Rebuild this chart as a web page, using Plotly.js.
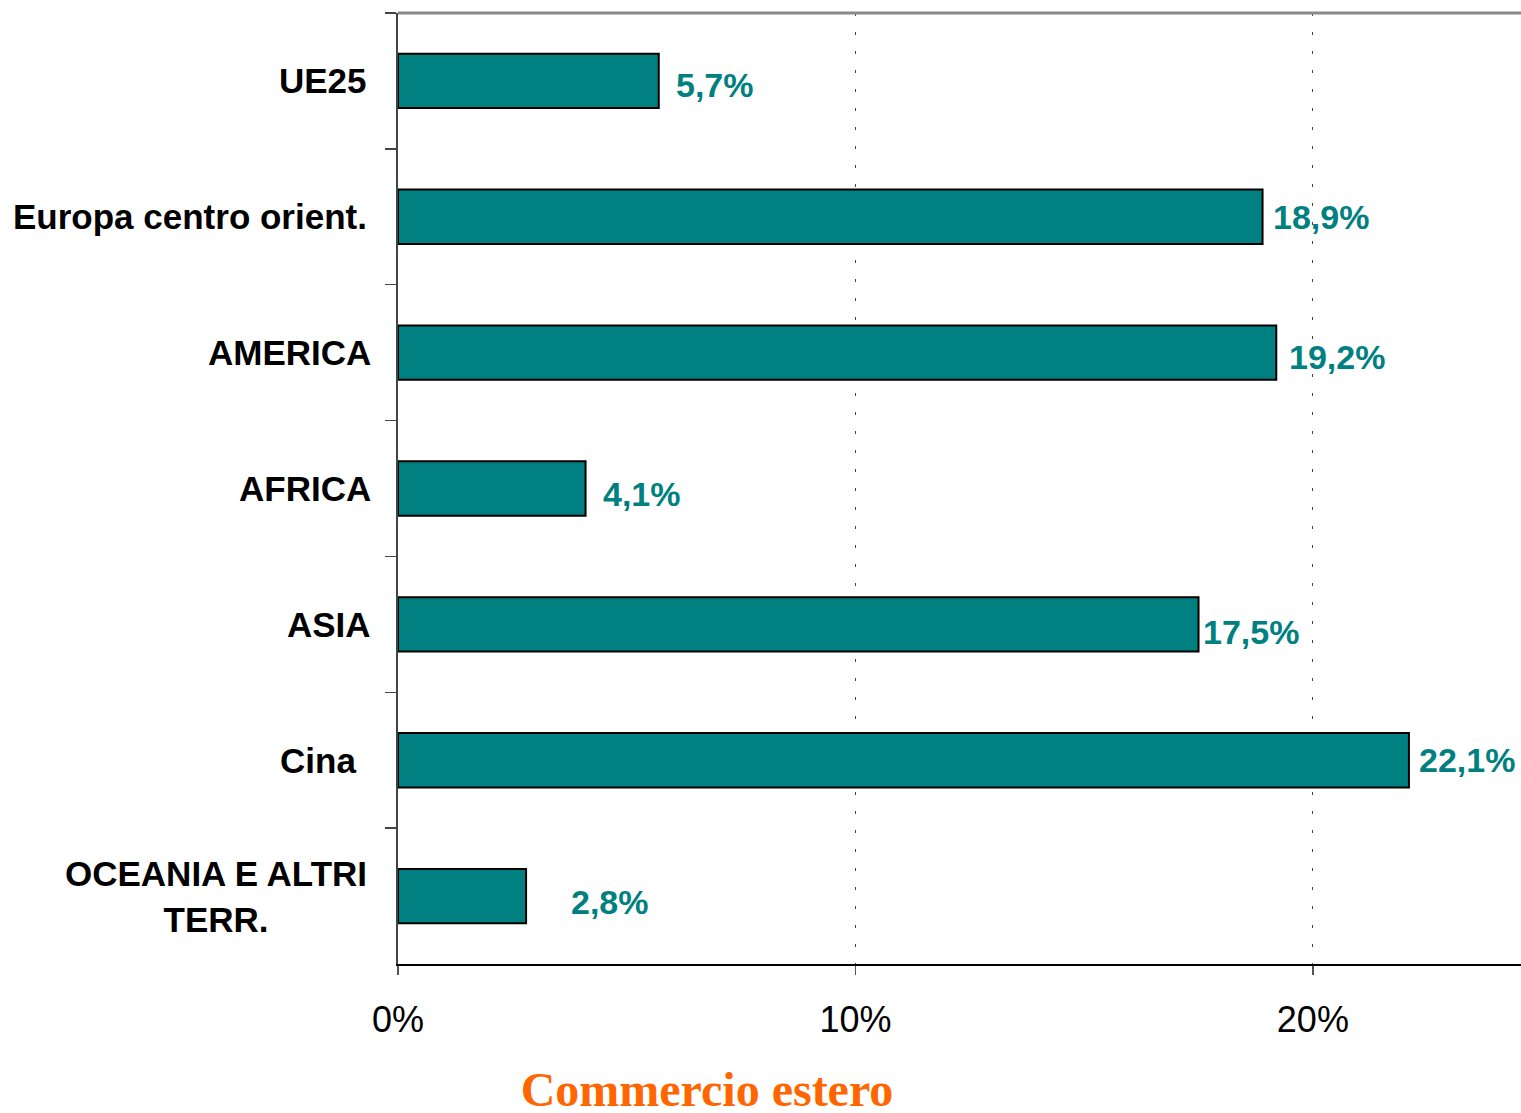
<!DOCTYPE html>
<html>
<head>
<meta charset="utf-8">
<script src="https://cdn.plot.ly/plotly-3.0.1.min.js"></script>
<style>html,body{margin:0;padding:0;background:#fff;}#chart{width:1521px;height:1113px;}</style>
</head>
<body>
<div id="chart"></div>
<script>
// ---- data ----
const categories = ["UE25", "Europa centro orient.", "AMERICA", "AFRICA", "ASIA", "Cina ", "OCEANIA E ALTRI<br>TERR."];
const values = [5.7, 18.9, 19.2, 4.1, 17.5, 22.1, 2.8];
const valueLabels = ["5,7%", "18,9%", "19,2%", "4,1%", "17,5%", "22,1%", "2,8%"];
const xTickVals = [0, 10, 20];
const xTickText = ["0%", "10%", "20%"];
const chartTitle = "Commercio estero";

// ---- style (label placement offsets in px) ----
const labelStyle = {
  xshift: [15, 8, 11, 15, 2, 8, 43],
  yshift: [-4, 0, -4, -5, -8, 0, -6],
  catShift: [-29, -29, -25, -25, -25, -30, -29]
};
const teal = "#008080";

const trace = {
  type: "bar",
  orientation: "h",
  y: categories,
  x: values,
  width: 0.4,
  marker: {color: teal, line: {color: "#000", width: 2}},
  hoverinfo: "skip"
};

const annotations = [];
values.forEach((v, i) => {
  annotations.push({
    x: v, y: categories[i], xref: "x", yref: "y",
    text: valueLabels[i], showarrow: false,
    xanchor: "left", yanchor: "middle",
    xshift: labelStyle.xshift[i], yshift: labelStyle.yshift[i],
    font: {family: "Liberation Sans, Arial, sans-serif", size: 34, color: teal, weight: "bold"}
  });
});
categories.forEach((c, i) => {
  annotations.push({
    x: 0, y: c, xref: "paper", yref: "y",
    text: "<b>" + c + "</b>", showarrow: false,
    xanchor: "right", yanchor: "middle", align: "center",
    xshift: labelStyle.catShift[i], yshift: 0,
    font: {family: "Liberation Sans, Arial, sans-serif", size: 35, color: "#000"}
  });
});

const layout = {
  width: 1521, height: 1113,
  margin: {l: 398, r: 0, t: 13, b: 149},
  paper_bgcolor: "#fff", plot_bgcolor: "#fff",
  showlegend: false,
  title: {
    text: "<b>" + chartTitle + "</b>",
    font: {family: "Liberation Serif, Times New Roman, serif", size: 48, color: "#FF6600"},
    xref: "container", yref: "container",
    x: 707 / 1521, xanchor: "center",
    y: 1 - 1089 / 1113, yanchor: "middle"
  },
  xaxis: {
    range: [0, 24.55],
    tickvals: xTickVals, ticktext: xTickText,
    ticks: "outside", ticklen: 9, tickwidth: 1.5, tickcolor: "#555",
    tickfont: {family: "Liberation Sans, Arial, sans-serif", size: 36, color: "#000"},
    ticklabelstandoff: 14,
    showline: true, linecolor: "#000", linewidth: 1.5,
    showgrid: true, gridcolor: "#444", gridwidth: 1, griddash: "3px,16px",
    zeroline: false, fixedrange: true
  },
  yaxis: {
    type: "category",
    autorange: "reversed",
    showticklabels: false,
    ticks: "outside", ticklen: 11, tickwidth: 1.5, tickcolor: "#444",
    tickson: "boundaries",
    showline: true, linecolor: "#444", linewidth: 2,
    showgrid: false, zeroline: false, fixedrange: true
  },
  shapes: [{
    type: "line", xref: "paper", yref: "paper",
    x0: 0, x1: 1, y0: 1, y1: 1,
    line: {color: "#888", width: 3}
  }],
  annotations: annotations
};

Plotly.newPlot("chart", [trace], layout, {displayModeBar: false, staticPlot: true});
</script>
</body>
</html>
